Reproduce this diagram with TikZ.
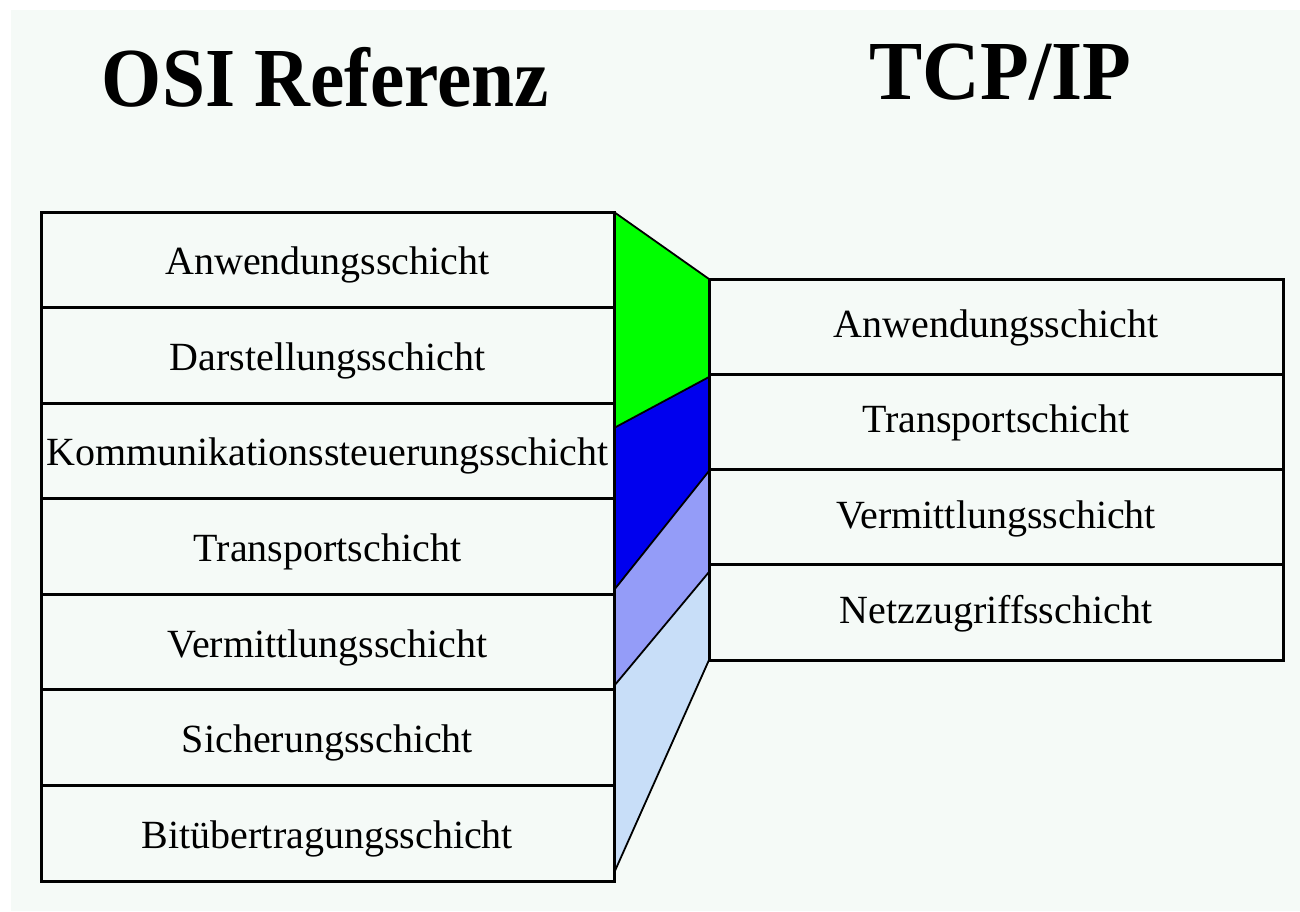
\documentclass[tikz,border=0pt]{standalone}
\usepackage{fontspec}
\setmainfont{Liberation Serif}
\usepackage{graphicx}
\definecolor{bgc}{HTML}{F5FAF7}
\definecolor{lgreen}{HTML}{00FF00}
\definecolor{lblue}{HTML}{0000EE}
\definecolor{llav}{HTML}{949CF8}
\definecolor{llight}{HTML}{C8DEF8}
\tikzset{
  osirow/.style={draw, line width=3pt, outer sep=0pt, inner sep=0pt,
    minimum width=573pt, minimum height=95.57pt, anchor=north west,
    text height=30pt, text depth=0pt, font=\fontsize{40}{40}\selectfont},
  tcprow/.style={draw, line width=3pt, outer sep=0pt, inner sep=0pt,
    minimum width=574pt, minimum height=95.25pt, anchor=north west,
    text height=22pt, text depth=0pt, font=\fontsize{40}{40}\selectfont},
  titlestyle/.style={anchor=base, inner sep=0pt, font=\fontsize{84}{84}\selectfont\bfseries},
  slant/.style={draw=black, line width=1.8pt}
}
\begin{document}
\begin{tikzpicture}[x=1pt,y=-1pt]
\useasboundingbox (0,0) rectangle (1300,911);
\fill[white] (0,0) rectangle (1300,911);
\fill[bgc] (11,10) rectangle (1300,911);
% titles
\node[titlestyle] (osititle) at (325.5,106) {\scalebox{0.92}[1]{OSI Referenz}};
\node[titlestyle] (tcptitle) at (1000.5,99) {\scalebox{0.95}[1]{TCP/IP}};
% coloured wedges
\fill[lgreen] (614,212) -- (709,279) -- (709,377) -- (614,428) -- cycle;
\fill[lblue] (614,428) -- (709,377) -- (709,471) -- (614,590) -- cycle;
\fill[llav] (614,590) -- (709,471) -- (709,572) -- (614,686) -- cycle;
\fill[llight] (614,686) -- (709,572) -- (709,660) -- (614,873) -- cycle;
\draw[slant] (614,212) -- (709,279);
\draw[slant] (614,428) -- (709,377);
\draw[slant] (614,590) -- (709,471);
\draw[slant] (614,686) -- (709,572);
\draw[slant] (614,873) -- (709,660);
% OSI stack
\node[osirow] (o1) at (41,212) {Anwendungsschicht};
\node[osirow] (o2) at (o1.south west) {Darstellungsschicht};
\node[osirow] (o3) at (o2.south west) {Kommunikationssteuerungsschicht};
\node[osirow] (o4) at (o3.south west) {Transportschicht};
\node[osirow] (o5) at (o4.south west) {Vermittlungsschicht};
\node[osirow] (o6) at (o5.south west) {Sicherungsschicht};
\node[osirow] (o7) at (o6.south west) {Bitübertragungsschicht};
% TCP/IP stack
\node[tcprow] (t1) at (709,279) {Anwendungsschicht};
\node[tcprow] (t2) at (t1.south west) {Transportschicht};
\node[tcprow] (t3) at (t2.south west) {Vermittlungsschicht};
\node[tcprow] (t4) at (t3.south west) {Netzzugriffsschicht};
\end{tikzpicture}
\end{document}
